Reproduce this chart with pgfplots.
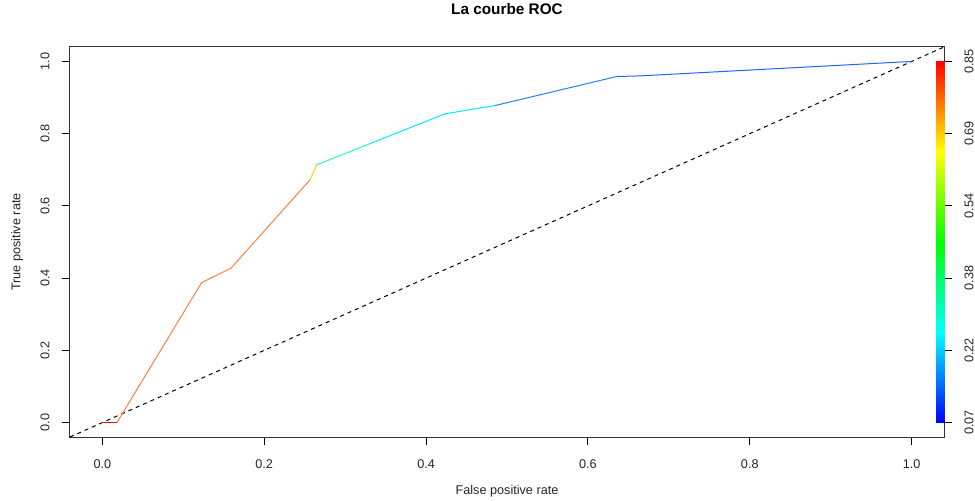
\documentclass[border=0pt]{standalone}
\usepackage{pgfplots}
\pgfplotsset{compat=1.18}
\usepackage{fontspec}
\setmainfont{Liberation Sans}
\definecolor{cRed}{RGB}{255,0,0}
\definecolor{cOrange}{RGB}{255,130,60}
\definecolor{cYellow}{RGB}{255,215,0}
\definecolor{cGreenCyan}{RGB}{40,255,170}
\definecolor{cCyan}{RGB}{0,235,255}
\definecolor{cBlueA}{RGB}{40,125,255}
\definecolor{cBlueB}{RGB}{30,100,255}
\pgfplotsset{
  colormap={rocr}{rgb255=(0,0,255) rgb255=(0,255,255) rgb255=(0,255,0) rgb255=(255,255,0) rgb255=(255,0,0)},
}
\begin{document}
\begin{tikzpicture}
\useasboundingbox (-52.5pt,-47.25pt) rectangle (678.75pt,327.75pt);
\begin{axis}[
  at={(0,0)}, anchor=south west,
  scale only axis, width=655.5pt, height=292.5pt,
  xmin=-0.04, xmax=1.04, ymin=-0.04, ymax=1.04,
  axis line style={black!80, line width=0.75pt},
  tick style={black, line width=0.75pt},
  tick align=outside, major tick length=6pt,
  xtick pos=bottom, ytick pos=left,
  xtick={0,0.2,0.4,0.6,0.8,1}, ytick={0,0.2,0.4,0.6,0.8,1},
  xticklabels={0.0,0.2,0.4,0.6,0.8,1.0},
  yticklabels={0.0,0.2,0.4,0.6,0.8,1.0},
  /pgf/number format/assume math mode=true,
  ticklabel style={font=\fontsize{9.5}{11}\selectfont, text=black!85},
  xticklabel style={anchor=center, yshift=-14pt},
  yticklabel style={rotate=90, anchor=center, yshift=12.75pt},
  xlabel={False positive rate},
  ylabel={True positive rate},
  label style={font=\fontsize{9.5}{11}\selectfont, text=black!85},
  xlabel style={at={(axis description cs:0.5,0)}, anchor=center, yshift=-40.5pt},
  ylabel style={at={(axis description cs:0,0.5)}, anchor=center, yshift=39.75pt},
  title={La courbe ROC},
  title style={at={(axis description cs:0.5,1)}, anchor=center, yshift=22.5pt, font=\fontsize{11.5}{13}\selectfont\bfseries},
]
\addplot[black, line width=0.75pt, dash pattern=on 3pt off 3pt] coordinates {(-0.04,-0.04) (1.04,1.04)};
\addplot[cRed, line width=0.75pt] coordinates {(0,0) (0.018,0)};
\addplot[cOrange, line width=0.75pt] coordinates {(0.018,0) (0.1227,0.3875) (0.1589,0.4274) (0.2565,0.672)};
\addplot[cYellow, line width=0.75pt] coordinates {(0.2565,0.672) (0.2648,0.7136)};
\addplot[cGreenCyan, line width=0.75pt] coordinates {(0.2648,0.7136) (0.33,0.7717)};
\addplot[cCyan, line width=0.75pt] coordinates {(0.33,0.7717) (0.4233,0.8549) (0.4851,0.8778)};
\addplot[cBlueA, line width=0.75pt] coordinates {(0.4851,0.8778) (0.6355,0.9582)};
\addplot[cBlueB, line width=0.75pt] coordinates {(0.6355,0.9582) (0.6645,0.96) (1.0,1.0)};
\end{axis}
\begin{axis}[
  at={(0,0)}, anchor=south west,
  scale only axis, width=655.5pt, height=292.5pt,
  xmin=-0.04, xmax=1.04, ymin=0.0388, ymax=0.8812,
  hide x axis,
  axis y line*=right,
  y axis line style={black!80, line width=0.75pt},
  tick style={black, line width=0.75pt},
  tick align=outside, major tick length=6pt,
  ytick={0.07,0.226,0.382,0.538,0.694,0.85},
  yticklabels={0.07,0.22,0.38,0.54,0.69,0.85},
  /pgf/number format/assume math mode=true,
  yticklabel style={font=\fontsize{9.5}{11}\selectfont, text=black!85, rotate=90, anchor=center, yshift=-12.75pt},
  colormap name=rocr,
  point meta min=0.07, point meta max=0.85,
]
\addplot[surf, shader=interp, point meta=y, mesh/rows=2, mesh/cols=2] coordinates {(1.0297,0.07) (1.04,0.07) (1.0297,0.85) (1.04,0.85)};
\end{axis}
\end{tikzpicture}
\end{document}
